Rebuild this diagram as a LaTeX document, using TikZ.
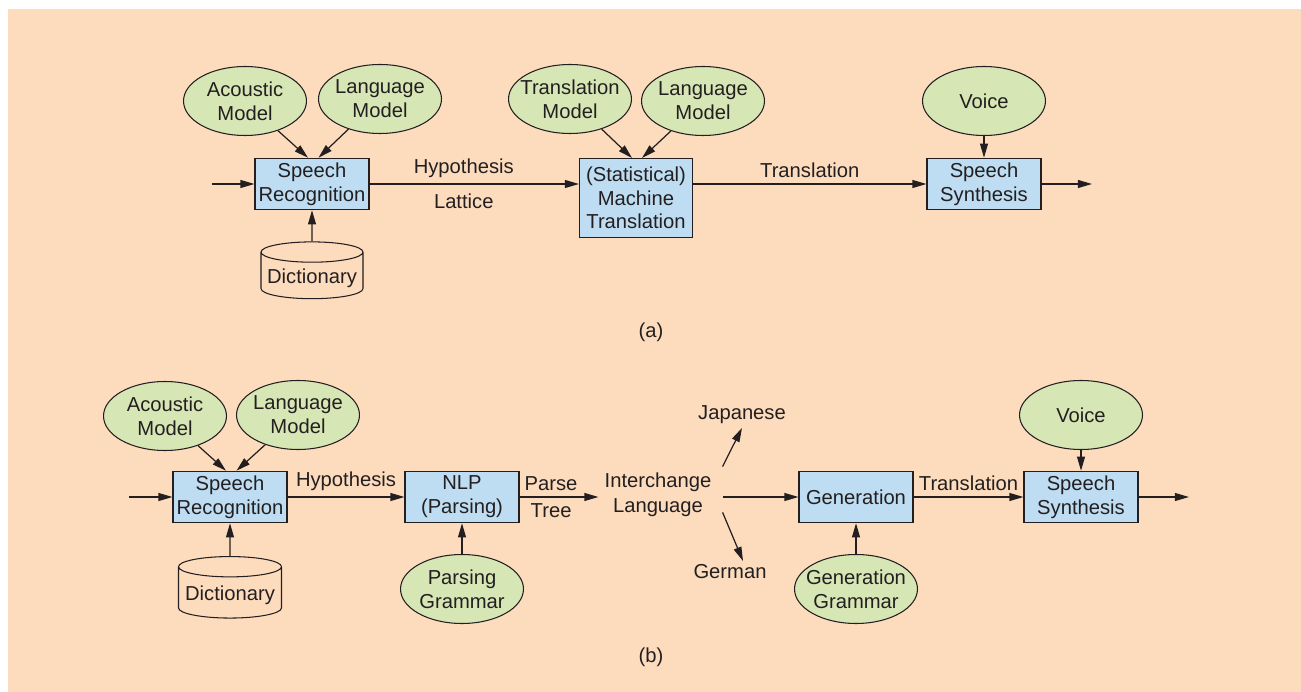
\documentclass[tikz,border=0pt]{standalone}
\usepackage{fontspec}
\setmainfont{Liberation Sans}
\usetikzlibrary{shapes.geometric, arrows.meta}
\usetikzlibrary{positioning}
\usepackage{xcolor}

\definecolor{bgpeach}{RGB}{253,220,190}
\definecolor{boxblue}{RGB}{190,221,242}
\definecolor{modelgreen}{RGB}{215,230,181}
\definecolor{inkgray}{RGB}{35,31,32}

\tikzset{
  every model/.style={ellipse, draw=inkgray, fill=modelgreen, line width=0.6pt,
    minimum width=2.46cm, minimum height=1.38cm, inner xsep=-12pt, inner ysep=-8pt,
    align=center},
  every module/.style={rectangle, draw=inkgray, fill=boxblue, line width=0.6pt,
    minimum width=2.28cm, minimum height=1.03cm, inner sep=2pt, align=center},
  every store/.style={cylinder, shape border rotate=90, aspect=0.2, draw=inkgray,
    fill=bgpeach, line width=0.6pt, minimum width=2.04cm, minimum height=1.1cm},
  flow/.style={->, draw=inkgray, line width=0.7pt}
}

\begin{document}
\begin{tikzpicture}[x=0.02cm, y=-0.02cm, >={Triangle[length=8pt,width=4.5pt]},
  font=\fontsize{11.5}{13.5}\selectfont, text=inkgray]

\useasboundingbox (0,0) rectangle (1301,692);
\fill[bgpeach] (8,9) rectangle (1301,692);

% (a) statistical translation
\foreach \n/\t/\x/\y in {acA/Acoustic\\Model/245/101, lmA/Language\\Model/380/99,
    tmA/Translation\\Model/570/99, lmmA/Language\\Model/703/101, vcA/Voice/984/101}
  \node [every model] (\n) at (\x,\y) {\t};

\node [every module] (srA) at (312,184) {Speech\\Recognition};
\node [every store] (dictA) at (312,278) {Dictionary};
\node [every module, minimum width=2.26cm, minimum height=1.58cm] (mtA) at (636,198)
  {(Statistical)\\Machine\\Translation};
\node [every module] (ssA) at (984,184) {Speech\\Synthesis};
\coordinate (inA) at (212,184);
\coordinate (outA) at (1092,184);
\node (capA) at (651,332) {(a)};

\draw [flow] (inA) -- (srA);
\draw [flow] (acA) -- ([xshift=-0.08cm]srA.north);
\draw [flow] (lmA) -- ([xshift=0.13cm]srA.north);
\draw [flow] (dictA) -- (srA);
\draw [flow] (srA) -- node [above, pos=0.45] (hypA) {Hypothesis}
  node [below, pos=0.45, inner sep=5.5pt] (latA) {Lattice} (srA -| mtA.west);
\draw [flow] (tmA) -- ([xshift=-0.08cm]mtA.north);
\draw [flow] (lmmA) -- ([xshift=0.12cm]mtA.north);
\draw [flow] (mtA.east |- ssA) -- node [above] (trA) {Translation} (ssA);
\draw [flow] (vcA) -- (ssA);
\draw [flow] (ssA) -- (outA);

% (b) interlingua translation
\foreach \n/\t/\x/\y in {acB/Acoustic\\Model/165/416, lmB/Language\\Model/298/415,
    pgB/Parsing\\Grammar/462/589, ggB/Generation\\Grammar/856/589, vcB/Voice/1081/415}
  \node [every model] (\n) at (\x,\y) {\t};

\node [every module] (srB) at (230,497) {Speech\\Recognition};
\node [every store, minimum width=2.06cm, minimum height=1.23cm] (dictB) at (230,595) {Dictionary};
\node [every module] (nlpB) at (462,497) {NLP\\(Parsing)};
\node [align=center, font=\fontsize{11.5}{14.5}\selectfont] (ilang) at (658,495)
  {Interchange\\Language};
\node [inner sep=2pt] (jap) at (742,415) {Japanese};
\node [inner sep=2pt] (ger) at (730,572) {German};
\node [every module] (genB) at (856,497) {Generation};
\node [every module] (ssB) at (1081,497) {Speech\\Synthesis};
\coordinate (inB) at (129,497);
\coordinate (outB) at (1189,497);
\node (capB) at (651,657) {(b)};

\draw [flow] (inB) -- (srB);
\draw [flow] (acB) -- ([xshift=-0.08cm]srB.north);
\draw [flow] (lmB) -- ([xshift=0.13cm]srB.north);
\draw [flow] (dictB) -- (srB);
\draw [flow] (srB) -- node [above] (hypB) {Hypothesis} (nlpB);
\draw [flow] (pgB) -- (nlpB);
\draw [flow] (nlpB) -- node [above, pos=0.4] (parB) {Parse}
  node [below, pos=0.4] (treB) {Tree} (nlpB -| ilang.west);
\draw [flow] ([xshift=0.1cm]ilang.north east) -- (jap.south);
\draw [flow] ([xshift=0.1cm, yshift=0.22cm]ilang.south east) -- ([xshift=0.26cm]ger.north);
\draw [flow] ([xshift=0.1cm]ilang.east |- genB) -- (genB);
\draw [flow] (ggB) -- (genB);
\draw [flow] (genB) -- node [above] (trB) {Translation} (ssB);
\draw [flow] (vcB) -- (ssB);
\draw [flow] (ssB) -- (outB);

\end{tikzpicture}
\end{document}
